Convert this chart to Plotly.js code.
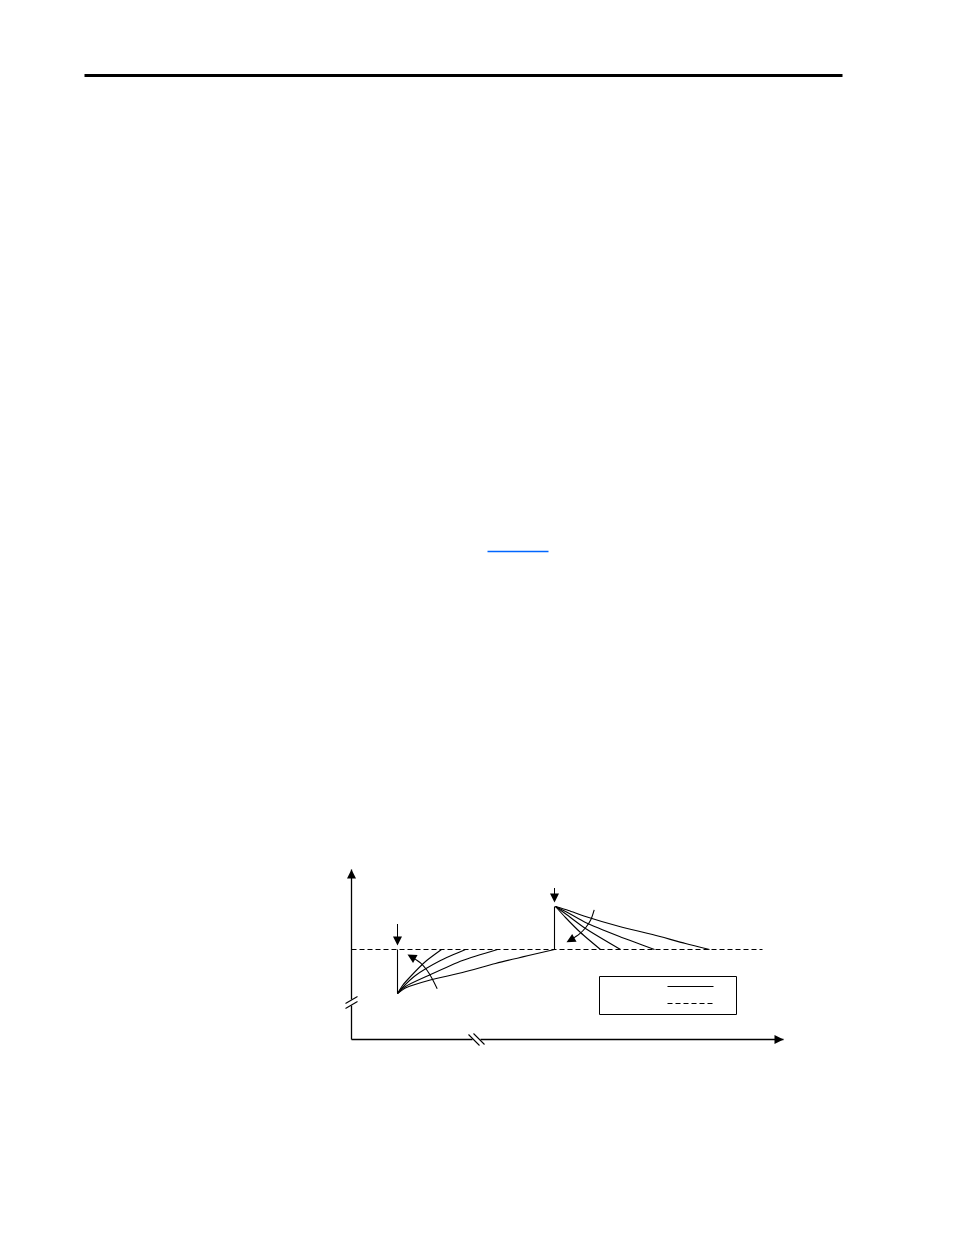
<!DOCTYPE html>
<html>
<head>
<meta charset="utf-8">
<script src="https://cdn.plot.ly/plotly-3.0.1.min.js"></script>
<style>html,body{margin:0;padding:0;background:#fff;}#chart{width:954px;height:1235px;}</style>
</head>
<body>
<div id="chart"></div>
<script>
// ---- data (schematic units) ----
const levelY = 9.0;                 // reference level (dashed)
const levelX = [0, 41.1];
const stepLowX = 4.6;               // first step change
const stepLowY = [4.6, 9.0];
const stepHighX = 20.3;             // second step change
const stepHighY = [9.0, 13.3];

// rising responses after first step
const rise1X = [4.6, 5.1, 5.9, 7.4, 9.0];
const rise1Y = [4.6, 5.4, 6.3, 7.8, 9.0];
const rise2X = [4.6, 5.2, 6.4, 8.9, 11.4];
const rise2Y = [4.6, 5.3, 6.4, 7.9, 9.0];
const rise3X = [4.6, 5.4, 7.7, 11.1, 14.6];
const rise3Y = [4.6, 5.3, 6.4, 7.9, 9.0];
const rise4X = [4.6, 5.5, 7.7, 11.1, 14.4, 17.7, 20.3];
const rise4Y = [4.6, 5.2, 5.9, 6.7, 7.6, 8.4, 9.0];

// decaying responses after second step
const fall1X = [20.4, 21.4, 22.9, 24.9];
const fall1Y = [13.3, 12.2, 10.7, 9.0];
const fall2X = [20.4, 21.5, 23.4, 26.9];
const fall2Y = [13.3, 12.5, 11.1, 9.0];
const fall3X = [20.4, 21.6, 23.4, 26.8, 30.3];
const fall3Y = [13.3, 12.7, 11.7, 10.3, 9.0];
const fall4X = [20.4, 21.7, 23.4, 26.8, 30.1, 33.4, 35.8];
const fall4Y = [13.3, 12.9, 12.3, 11.3, 10.5, 9.6, 9.0];

// curved "increasing" arrows
const arcLowX = [8.57, 8.07, 7.57, 6.9, 6.07];
const arcLowY = [5.07, 6.07, 6.9, 7.67, 8.23];
const arcLowTip = [5.6, 8.5];
const arcHighX = [24.27, 23.93, 23.43, 22.77, 21.93];
const arcHighY = [12.97, 11.97, 11.2, 10.53, 9.97];
const arcHighTip = [21.5, 9.73];

// axes
const yAxisLowY = [0, 3.4];
const yAxisHighY = [4.0, 17.0];
const xAxisLowX = [0, 12.1];
const xAxisHighX = [12.9, 43.2];

// legend samples
const legBoxX = [24.8, 38.5];
const legBoxY = [2.5, 6.3];
const legLineX = [31.6, 36.2];
const legSolidY = 5.3;
const legDashY = 3.6;

// page decorations
const ruleX = [-26.7, 49.1];
const ruleY = 96.4;
const linkX = [13.6, 19.7];
const linkY = 48.8;

const black = '#000';
const thin = 1.1;
function seg(x, y, extra) {
  return Object.assign({x: x, y: y, mode: 'lines', type: 'scatter', hoverinfo: 'skip',
    showlegend: false, line: {color: black, width: thin}}, extra || {});
}
const curve = {color: black, width: thin, shape: 'spline', smoothing: 0.7};
const dashLine = {color: black, width: 1.1, dash: '5px,3px'};
const traces = [
  seg(levelX, [levelY, levelY], {line: dashLine}),
  seg([stepLowX, stepLowX], stepLowY),
  seg([stepHighX, stepHighX], stepHighY),
  seg(rise1X, rise1Y, {line: curve}),
  seg(rise2X, rise2Y, {line: curve}),
  seg(rise3X, rise3Y, {line: curve}),
  seg(rise4X, rise4Y, {line: curve}),
  seg(fall1X, fall1Y, {line: curve}),
  seg(fall2X, fall2Y, {line: curve}),
  seg(fall3X, fall3Y, {line: curve}),
  seg(fall4X, fall4Y, {line: curve}),
  seg(arcLowX, arcLowY, {line: curve}),
  seg(arcHighX, arcHighY, {line: curve}),
  seg([0, 0], yAxisLowY, {line: {color: black, width: 1.3}}),
  seg([0, 0], yAxisHighY, {line: {color: black, width: 1.3}}),
  seg(xAxisLowX, [0, 0], {line: {color: black, width: 1.3}}),
  seg(xAxisHighX, [0, 0], {line: {color: black, width: 1.3}}),
  // axis break marks
  seg([-0.6, 0.6], [3.1, 3.8]),
  seg([-0.6, 0.6], [3.6, 4.3]),
  seg([11.7, 12.8], [0.5, -0.6]),
  seg([12.2, 13.3], [0.6, -0.5]),
  // legend samples
  seg(legLineX, [legSolidY, legSolidY]),
  seg(legLineX, [legDashY, legDashY], {line: dashLine})
];

function arrow(x, y, ax, ay) {
  return {x: x, y: y, ax: ax, ay: ay, xref: 'x', yref: 'y', axref: 'x', ayref: 'y',
    text: '', showarrow: true, arrowhead: 2, arrowsize: 1.8, arrowwidth: 1,
    arrowcolor: black, standoff: 0, startstandoff: 0};
}
const annotations = [
  arrow(0, yAxisHighY[1], 0, yAxisHighY[1] - 1.5),
  arrow(xAxisHighX[1], 0, xAxisHighX[1] - 2, 0),
  arrow(stepLowX, 9.4, stepLowX, 11.7),
  arrow(stepHighX, 13.7, stepHighX, 15.3),
  arrow(arcLowTip[0], arcLowTip[1], arcLowX[4], arcLowY[4]),
  arrow(arcHighTip[0], arcHighTip[1], arcHighX[4], arcHighY[4])
];

const shapes = [
  {type: 'rect', xref: 'x', yref: 'y', x0: legBoxX[0], x1: legBoxX[1], y0: legBoxY[0], y1: legBoxY[1],
   line: {color: black, width: 1}},
  {type: 'line', xref: 'x', yref: 'y', x0: ruleX[0], x1: ruleX[1], y0: ruleY, y1: ruleY,
   line: {color: black, width: 3}},
  {type: 'line', xref: 'x', yref: 'y', x0: linkX[0], x1: linkX[1], y0: linkY, y1: linkY,
   line: {color: '#0066ff', width: 1.3}}
];

const layout = {
  width: 954, height: 1235,
  margin: {l: 0, r: 0, t: 0, b: 0, pad: 0},
  paper_bgcolor: '#fff', plot_bgcolor: '#fff',
  showlegend: false,
  xaxis: {range: [-35.15, 60.25], visible: false, fixedrange: true},
  yaxis: {range: [-19.55, 103.95], visible: false, fixedrange: true},
  annotations: annotations,
  shapes: shapes
};
Plotly.newPlot('chart', traces, layout, {staticPlot: true, displayModeBar: false});
</script>
</body>
</html>
